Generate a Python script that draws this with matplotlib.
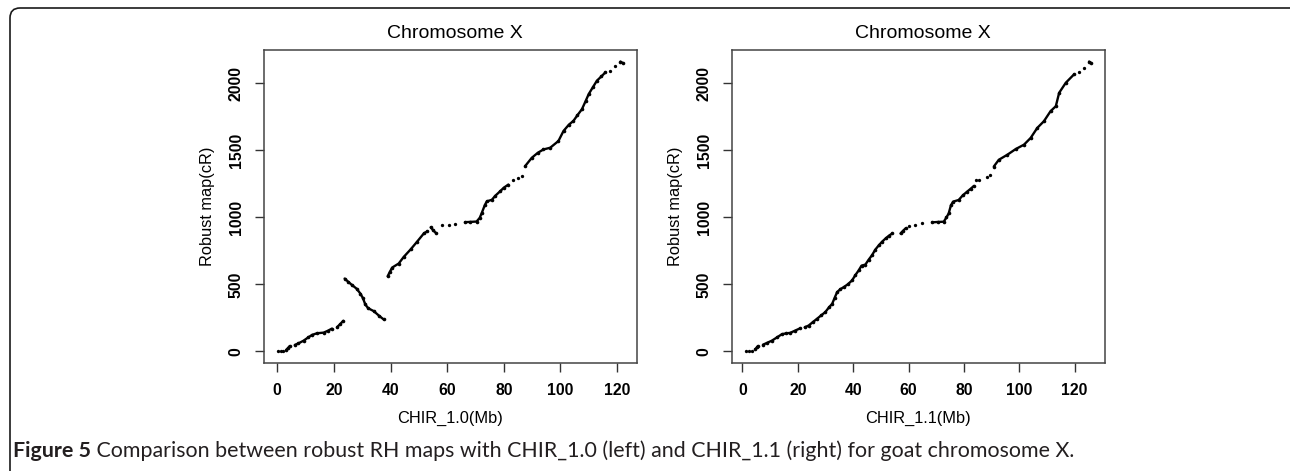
import matplotlib.pyplot as plt
from matplotlib.patches import FancyBboxPatch

plt.rcParams['font.family'] = ['Liberation Sans', 'DejaVu Sans']

# CHIR_1.0 (left) - runs of markers, (Mb, cR)
left_runs = [
    [(0.2, 0)], [(1.2, 2)], [(2.2, 5)],
    [(3.2, 12), (3.8, 25), (4.4, 40)],
    [(6.2, 48), (7.5, 60), (9.3, 80), (11, 105), (12.3, 123), (14, 135),
     (16.4, 140), (18, 155), (19.3, 170)],
    [(21.1, 180), (22.3, 205), (23.3, 228)],
    [(23.8, 543), (25, 520), (26.4, 495), (28, 468), (29.4, 430), (30.3, 395),
     (31.1, 350), (32.1, 322), (34.1, 300), (36, 265), (37.6, 238)],
    [(39, 560), (39.7, 590), (40.6, 625), (42.9, 655), (44.7, 705), (47.1, 760),
     (49.4, 818), (51.8, 880), (53, 895)],
    [(54.2, 925), (55, 905), (55.9, 885)],
    [(58.2, 940)], [(60.5, 945)], [(62.8, 953)],
    [(66.3, 963), (68, 965), (70.4, 968), (71.5, 995), (72.2, 1030), (73.3, 1090),
     (74, 1118), (75.8, 1130), (77, 1160), (78.7, 1193), (80, 1220), (81.6, 1243)],
    [(83.3, 1275)], [(85, 1295)], [(86.4, 1310)],
    [(87.5, 1380), (89.9, 1443), (92, 1480), (94, 1505), (96.4, 1518), (99.3, 1568),
     (101.1, 1643), (103, 1690), (104.6, 1718), (106, 1760), (107.6, 1805),
     (109, 1870), (110, 1918), (111.5, 1970), (112.9, 2018), (114.5, 2050),
     (115.9, 2080)],
    [(117.6, 2093)], [(119.4, 2130)], [(121.2, 2160), (122, 2150)],
]

# CHIR_1.1 (right)
right_runs = [
    [(1.2, 0)], [(2.4, 1)], [(3.6, 4)],
    [(4.6, 15), (5.2, 30), (5.6, 40)],
    [(7.4, 50), (9, 65), (10.6, 80), (12.5, 105), (14.2, 128), (15.8, 135),
     (17.2, 138), (19, 155), (20.9, 173)],
    [(22.5, 180), (23.9, 193), (25.5, 220), (26.9, 243), (28.5, 270), (29.9, 293),
     (31.3, 330), (32.4, 355), (33.3, 400), (34.2, 443), (35.4, 465), (36.6, 480),
     (38, 500), (39.6, 530), (40.8, 570), (42, 605), (43, 640), (44.4, 648),
     (45.6, 685), (46.8, 718), (48, 760), (49.3, 793), (50.5, 820), (51.7, 843),
     (53, 865), (54.1, 880)],
    [(57.1, 880), (58, 900), (58.9, 918)],
    [(60.1, 935)], [(62.5, 945)], [(65, 955)],
    [(68.5, 963), (70.5, 966), (72.7, 968), (73.7, 1000), (74.5, 1030), (75.3, 1090),
     (76.1, 1118), (78.1, 1130), (79.6, 1165), (81.2, 1193), (82.5, 1215),
     (83.6, 1235)],
    [(84.5, 1278)], [(85.5, 1282)], [(88.4, 1305)], [(89.6, 1315)],
    [(90.8, 1380), (92.6, 1430), (95.7, 1468), (98.7, 1510), (101.7, 1543),
     (104.1, 1593), (106.5, 1668), (108.9, 1718), (111.3, 1793), (113.2, 1830),
     (114.4, 1930), (116.8, 2005), (119.8, 2068)],
    [(121.6, 2085)], [(123.4, 2118)], [(125.2, 2163), (125.8, 2155)],
]

panel_titles = ['Chromosome X', 'Chromosome X']
x_labels = ['CHIR_1.0(Mb)', 'CHIR_1.1(Mb)']
y_label = 'Robust map(cR)'
x_ticks = [0, 20, 40, 60, 80, 100, 120]
y_ticks = [0, 500, 1000, 1500, 2000]
caption_bold = 'Figure 5'
caption_rest = (' Comparison between robust RH maps with CHIR_1.0 (left) and '
                'CHIR_1.1 (right) for goat chromosome X.')

W, H = 1290, 471
fig = plt.figure(figsize=(W / 100, H / 100), dpi=100)

# rounded frame around the figure panel, in inches so the corners stay round
# (bottom and right edge run off the image)
frame = FancyBboxPatch((0.10, -0.5), 13.1, 4.63 + 0.5,
                       boxstyle='round,pad=0,rounding_size=0.1',
                       transform=fig.dpi_scale_trans, fill=False,
                       edgecolor='#1a1a1a', linewidth=1.2, clip_on=False)
fig.patches.append(frame)

axes_left = [264, 732]
for i, runs in enumerate([left_runs, right_runs]):
    x0 = axes_left[i]
    ax = fig.add_axes([x0 / W, 1 - 363 / H, 372.5 / W, 313 / H])
    for run in runs:
        xs = [p[0] for p in run]
        ys = [p[1] for p in run]
        if len(run) == 1:
            ax.plot(xs, ys, 'o', color='black', markersize=2.4, markeredgewidth=0)
        else:
            ax.plot(xs, ys, '-o', color='black', linewidth=1.7, markersize=2.6,
                    markeredgewidth=0, solid_capstyle='round')
    ax.margins(x=0.04, y=0.04)
    ax.set_xticks(x_ticks)
    ax.set_yticks(y_ticks)
    ax.tick_params(direction='out', length=6.5, width=1.0, color='#333333',
                   labelsize=11.3, pad=8)
    for lab in ax.get_xticklabels() + ax.get_yticklabels():
        lab.set_fontweight('bold')
    for lab in ax.get_yticklabels():
        lab.set_rotation(90)
        lab.set_va('center')
    for sp in ax.spines.values():
        sp.set_color('#444444')
        sp.set_linewidth(1.1)
    ax.set_xlabel(x_labels[i], fontsize=11.8, labelpad=9)
    ax.set_ylabel(y_label, fontsize=11.8, labelpad=10)
    fig.text((x0 + 191) / W, 1 - 33 / H, panel_titles[i], fontsize=14,
             ha='center', va='center')

# caption: bold label followed by regular text, sized to span the reference width
cap_font = ['Lato', 'DejaVu Sans']
cap_size = 15.4
cap_y = 1 - 451 / H
t1 = fig.text(13 / W, cap_y, caption_bold, fontsize=cap_size,
              fontweight='bold', family=cap_font, va='center', color='#231f20')
r = fig.canvas.get_renderer()
bb = t1.get_window_extent(r)
fig.text(bb.x1 / W, cap_y, caption_rest, fontsize=cap_size,
         family=cap_font, va='center', color='#231f20')

fig.savefig('out.png', dpi=100)
